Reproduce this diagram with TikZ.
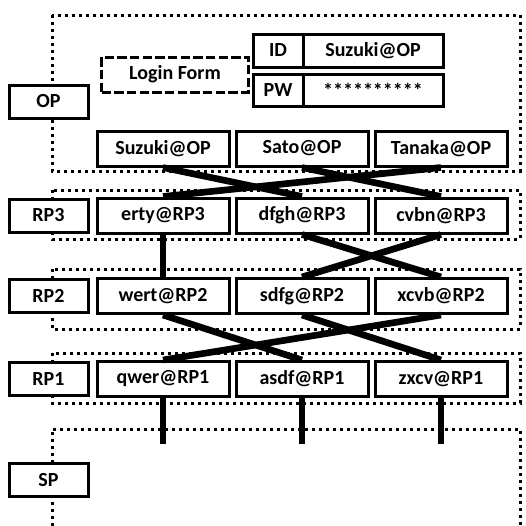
\documentclass[tikz,border=0pt]{standalone}
\usepackage{fontspec}
\setmainfont{Carlito}
\begin{document}
\begin{tikzpicture}[x=0.75pt,y=-0.75pt,
  box/.style={draw, fill=white, line width=2.25pt, minimum width=99pt, minimum height=26.25pt, inner sep=0pt, font=\fontsize{15}{18}\selectfont\bfseries},
  role/.style={box, minimum width=59.25pt, minimum height=24.75pt},
  area/.style={line width=2.25pt, dash pattern=on 2.25pt off 3pt},
  link/.style={line width=5pt}]
\useasboundingbox (0,0) rectangle (526,526);
% dotted areas
\draw[area] (52,15) rectangle (520,171);
\draw[area] (52,190) rectangle (520,239);
\draw[area] (52,269) rectangle (520,329);
\draw[area] (52,353) rectangle (520,403);
\draw[area] (52,526) -- (52,429) -- (520,429) -- (520,526);
% OP
\node[role] (op) at (48.5,101.5){OP};
\node[box, minimum width=110.25pt, minimum height=26.25pt, dash pattern=on 7pt off 2.5pt] (login) at (175,74.5){Login Form};
\node[box, minimum width=37.5pt, minimum height=24.75pt] (idkey) at (278,50.5){ID};
\node[box, minimum width=105pt, minimum height=24.75pt] (idval) at (373,50.5){Suzuki@OP};
\node[box, minimum width=37.5pt, minimum height=24pt] (pwkey) at (278,90){PW};
\node[box, minimum width=105pt, minimum height=24pt] (pwval) at (373,90){**********};
\node[box] (op1) at (163,148.5){Suzuki@OP};
\node[box] (op2) at (302,148.5){Sato@OP};
\node[box] (op3) at (441,148.5){Tanaka@OP};
% RP3
\node[role] (rp3) at (48.5,215.5){RP3};
\node[box] (rpc1) at (163,215.5){erty@RP3};
\node[box] (rpc2) at (302,215.5){dfgh@RP3};
\node[box] (rpc3) at (441,215.5){cvbn@RP3};
% RP2
\node[role] (rp2) at (48.5,296){RP2};
\node[box] (rpb1) at (163,296){wert@RP2};
\node[box] (rpb2) at (302,296){sdfg@RP2};
\node[box] (rpb3) at (441,296){xcvb@RP2};
% RP1
\node[role] (rp1) at (48.5,379){RP1};
\node[box] (rpa1) at (163,379){qwer@RP1};
\node[box] (rpa2) at (302,379){asdf@RP1};
\node[box] (rpa3) at (441,379){zxcv@RP1};
% SP
\node[role] (sp) at (48.5,480){SP};
\coordinate (sp1) at (163,444);
\coordinate (sp2) at (302,444);
\coordinate (sp3) at (441,444);
\draw[link](op1.south) -- (rpc2.north);
\draw[link](op2.south) -- (rpc3.north);
\draw[link](op3.south) -- (rpc1.north);
\draw[link](rpc1.south) -- (rpb1.north);
\draw[link](rpc2.south) -- (rpb3.north);
\draw[link](rpc3.south) -- (rpb2.north);
\draw[link](rpb1.south) -- (rpa2.north);
\draw[link](rpb2.south) -- (rpa3.north);
\draw[link](rpb3.south) -- (rpa1.north);
\draw[link](rpa1.south) -- (sp1);
\draw[link](rpa2.south) -- (sp2);
\draw[link](rpa3.south) -- (sp3);
\end{tikzpicture}
\end{document}
